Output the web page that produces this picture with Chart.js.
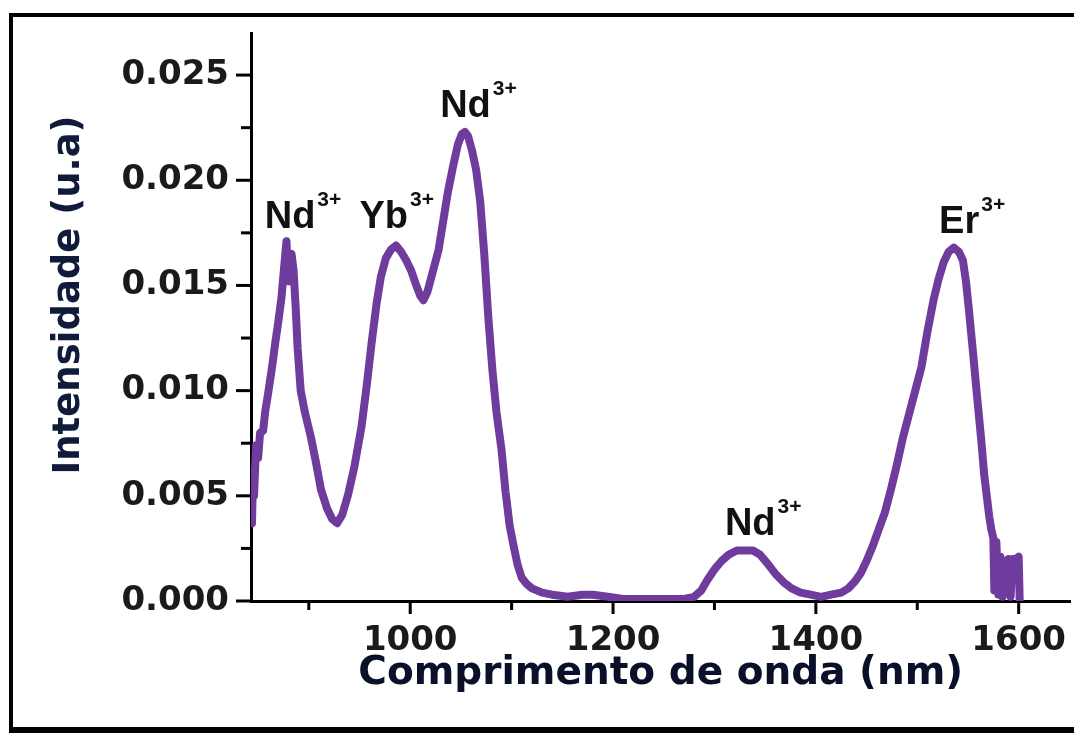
<!DOCTYPE html>
<html>
<head>
<meta charset="utf-8">
<script src="https://cdn.jsdelivr.net/npm/chart.js@4"></script>
<style>
  html, body { margin: 0; padding: 0; background: #fff; }
  #wrap { position: relative; width: 1074px; height: 733px; overflow: hidden; }
  #frame { position: absolute; left: 9px; top: 13px; width: 1100px; height: 720px; box-sizing: border-box;
           border-top: 4px solid #000; border-left: 4px solid #000; border-bottom: 6px solid #000; }
  #chart { position: absolute; left: 0; top: 0; }
</style>
</head>
<body>
<div id="wrap">
  <div id="frame"></div>
  <canvas id="chart" width="1074" height="733"></canvas>
</div>
<script>
// emission spectrum
const wavelength = [
  844, 845, 846, 848, 850, 852, 855, 857, 860, 864, 867, 870, 873, 875, 877, 878, 879, 880, 881, 883,
  885, 887, 889, 892, 896, 902, 907, 912, 918, 923, 928, 933, 939, 945, 952, 957, 962, 967, 971, 976,
  981, 986, 991, 996, 1001, 1006, 1010, 1013, 1017, 1022, 1028, 1033, 1037, 1042, 1047, 1051, 1054, 1057, 1061, 1065,
  1069, 1073, 1077, 1081, 1085, 1090, 1094, 1098, 1102, 1106, 1110, 1115, 1120, 1130, 1140, 1155, 1170, 1180, 1195, 1210,
  1230, 1250, 1270, 1280, 1287, 1293, 1300, 1307, 1314, 1322, 1330, 1338, 1345, 1352, 1360, 1368, 1376, 1385, 1395, 1405,
  1415, 1425, 1432, 1438, 1444, 1450, 1456, 1462, 1468, 1474, 1480, 1486, 1492, 1498, 1504, 1510, 1516, 1521, 1526, 1531,
  1536, 1541, 1545, 1548, 1551, 1555, 1559, 1563, 1566, 1569, 1571, 1573, 1575, 1576, 1578, 1580, 1582, 1584, 1586, 1588,
  1590, 1592, 1594, 1597, 1600, 1601
];
const intensity = [
  0.0037, 0.0062, 0.0050, 0.0074, 0.0068, 0.0080, 0.0081, 0.0090, 0.0099, 0.0112, 0.0123, 0.0133, 0.0144, 0.0155, 0.0166, 0.0171, 0.0158, 0.0152, 0.0163, 0.0165,
  0.0157, 0.0140, 0.0120, 0.0100, 0.0090, 0.0078, 0.0066, 0.0053, 0.0044, 0.0039, 0.0037, 0.0041, 0.0051, 0.0064, 0.0083, 0.0102, 0.0123, 0.0142, 0.0154, 0.0163,
  0.0167, 0.0169, 0.0166, 0.0162, 0.0157, 0.0150, 0.0145, 0.0143, 0.0147, 0.0156, 0.0167, 0.0182, 0.0194, 0.0206, 0.0217, 0.0222, 0.0223, 0.0221, 0.0214, 0.0205,
  0.0190, 0.0165, 0.0135, 0.0110, 0.0090, 0.0072, 0.0052, 0.0036, 0.0026, 0.0017, 0.0011, 0.0008, 0.0006, 0.0004, 0.0003, 0.0002, 0.0003, 0.0003, 0.0002, 0.0001,
  0.0001, 0.0001, 0.0001, 0.0002, 0.0005, 0.0010, 0.0015, 0.0019, 0.0022, 0.0024, 0.0024, 0.0024, 0.0022, 0.0018, 0.0013, 0.0009, 0.0006, 0.0004, 0.0003, 0.0002,
  0.0003, 0.0004, 0.0006, 0.0009, 0.0013, 0.0019, 0.0026, 0.0034, 0.0042, 0.0053, 0.0065, 0.0078, 0.0089, 0.0100, 0.0111, 0.0128, 0.0143, 0.0153, 0.0161, 0.0166,
  0.0168, 0.0166, 0.0162, 0.0152, 0.0138, 0.0118, 0.0097, 0.0077, 0.0060, 0.0048, 0.0040, 0.0034, 0.0030, 0.0005, 0.0028, 0.0003, 0.0021, 0.0002, 0.0019, 0.0012,
  0.0020, 0.0002, 0.0020, 0.0020, 0.0021, 0.0000
];

// tick positions, and the ones that carry a label (the rest are minor ticks)
const xTickValues = [900, 1000, 1100, 1200, 1300, 1400, 1500, 1600];
const xTickLabels = [1000, 1200, 1400, 1600];
const yTickValues = [0, 0.0025, 0.005, 0.0075, 0.01, 0.0125, 0.015, 0.0175, 0.02, 0.0225, 0.025];
const yTickLabels = [0.000, 0.005, 0.010, 0.015, 0.020, 0.025];

// peak annotations: ion, charge, position of the text start (nm, intensity at baseline)
const peakIon    = ['Nd', 'Yb', 'Nd', 'Nd', 'Er'];
const peakCharge = ['3+', '3+', '3+', '3+', '3+'];
const peakNm     = [856.5, 950, 1029.5, 1310.3, 1521.5];
const peakLevel  = [0.01773, 0.01773, 0.0230, 0.00316, 0.0175];

const AXIS_FONT = '"DejaVu Sans", sans-serif';
const LABEL_FONT = '"Liberation Sans", Arial, sans-serif';
const LINE_COLOR = '#6f3c9e';

const isLabelled = (v, list) => list.some(t => Math.abs(t - v) < 1e-7);

// minor/major tick marks drawn on the library's scales
const tickMarks = {
  id: 'tickMarks',
  afterDraw(chart) {
    const {ctx, scales: {x, y}, chartArea} = chart;
    ctx.save();
    ctx.strokeStyle = '#000';
    ctx.lineWidth = 3;
    x.ticks.forEach(t => {
      const px = x.getPixelForValue(t.value);
      const len = isLabelled(t.value, xTickLabels) ? 13 : 9;
      ctx.beginPath();
      ctx.moveTo(px, chartArea.bottom);
      ctx.lineTo(px, chartArea.bottom + len);
      ctx.stroke();
    });
    y.ticks.forEach(t => {
      const py = y.getPixelForValue(t.value);
      const len = isLabelled(t.value, yTickLabels) ? 15 : 10;
      ctx.beginPath();
      ctx.moveTo(chartArea.left, py);
      ctx.lineTo(chartArea.left - len, py);
      ctx.stroke();
    });
    ctx.restore();
  }
};

// ion labels with superscript charge + rotated y title
const annotations = {
  id: 'annotations',
  afterDraw(chart) {
    const {ctx, scales: {x, y}, chartArea} = chart;
    ctx.save();
    ctx.fillStyle = '#111';
    ctx.textBaseline = 'alphabetic';
    ctx.textAlign = 'left';
    peakIon.forEach((ion, i) => {
      const px = x.getPixelForValue(peakNm[i]);
      const py = y.getPixelForValue(peakLevel[i]);
      ctx.font = 'bold 38px ' + LABEL_FONT;
      ctx.fillText(ion, px, py);
      const w = ctx.measureText(ion).width;
      ctx.font = 'bold 21px ' + LABEL_FONT;
      ctx.fillText(peakCharge[i], px + w + 2, py - 22);
    });

    ctx.translate(66, (chartArea.top + chartArea.bottom) / 2 - 22);
    ctx.rotate(-Math.PI / 2);
    ctx.font = 'bold 37px ' + AXIS_FONT;
    ctx.fillStyle = '#101a3a';
    ctx.textAlign = 'center';
    ctx.fillText('Intensidade (u.a)', 0, 13);
    ctx.restore();
  }
};

new Chart(document.getElementById('chart').getContext('2d'), {
  type: 'line',
  data: {
    datasets: [{
      data: wavelength.map((w, i) => ({x: w, y: intensity[i]})),
      borderColor: LINE_COLOR,
      borderWidth: 8,
      borderJoinStyle: 'round',
      borderCapStyle: 'round',
      pointRadius: 0,
      tension: 0,
      fill: false
    }]
  },
  options: {
    responsive: false,
    animation: false,
    layout: {padding: {top: 33, left: 0, right: 0, bottom: 0}},
    plugins: {legend: {display: false}, tooltip: {enabled: false}},
    scales: {
      x: {
        type: 'linear', position: 'bottom', min: 843, max: 1651,
        afterFit: s => { s.height = 132; },
        afterBuildTicks: s => { s.ticks = xTickValues.map(v => ({value: v})); },
        border: {display: true, color: '#000', width: 3},
        grid: {drawOnChartArea: false, drawTicks: true, tickLength: 12, tickColor: 'rgba(0,0,0,0)'},
        ticks: {
          autoSkip: false, maxRotation: 0, padding: 8,
          color: '#1a1a1a', font: {family: AXIS_FONT, size: 34, weight: 'bold'},
          callback: v => isLabelled(v, xTickLabels) ? String(v) : ''
        },
        title: {
          display: true, text: 'Comprimento de onda (nm)', color: '#0a0f2a',
          font: {family: AXIS_FONT, size: 39, weight: 'bold'}, padding: {top: 0, bottom: 36}
        }
      },
      y: {
        min: 0, max: 0.027,
        afterFit: s => { s.width = 251; },
        afterBuildTicks: s => { s.ticks = yTickValues.map(v => ({value: v})); },
        border: {display: true, color: '#000', width: 3},
        grid: {drawOnChartArea: false, drawTicks: true, tickLength: 14, tickColor: 'rgba(0,0,0,0)'},
        ticks: {
          autoSkip: false, padding: 8,
          color: '#1a1a1a', font: {family: AXIS_FONT, size: 34, weight: 'bold'},
          callback: v => isLabelled(v, yTickLabels) ? v.toFixed(3) : ''
        }
      }
    }
  },
  plugins: [tickMarks, annotations]
});
</script>
</body>
</html>
